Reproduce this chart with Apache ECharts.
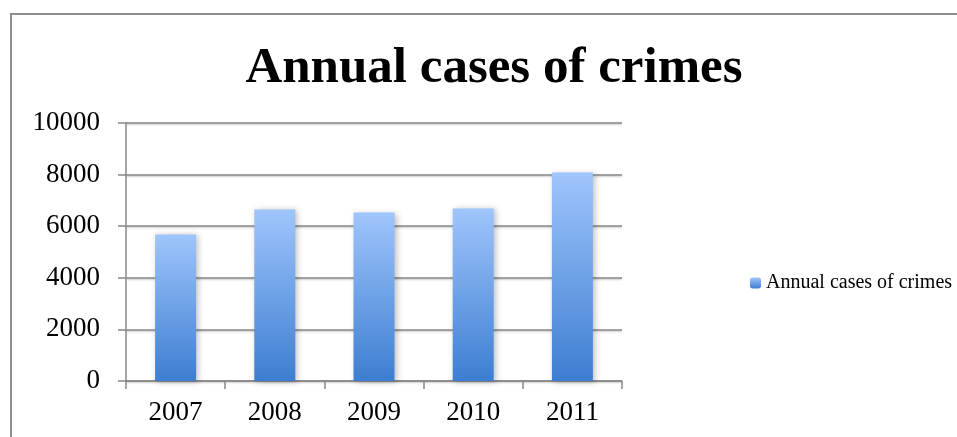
<!DOCTYPE html>
<html>
<head>
<meta charset="utf-8">
<script src="https://cdn.jsdelivr.net/npm/echarts@6/dist/echarts.min.js"></script>
<style>
  html, body { margin: 0; padding: 0; background: #fff; }
  #main { width: 957px; height: 437px; }
</style>
</head>
<body>
<div id="main"></div>
<script>
// data
var years = ['2007', '2008', '2009', '2010', '2011'];
var crimes = [5680, 6650, 6530, 6690, 8080];
var seriesName = 'Annual cases of crimes';

var barColor = new echarts.graphic.LinearGradient(0, 0, 0, 1, [
    {offset: 0, color: '#9fc5fc'},
    {offset: 1, color: '#3d7ed1'}
]);

var myChart = echarts.init(document.getElementById('main'));
myChart.setOption({
    backgroundColor: '#fff',
    animation: false,
    title: {
        text: 'Annual cases of crimes',
        left: 489,
        top: 38,
        textAlign: 'center',
        textStyle: {
            fontFamily: 'Liberation Serif',
            fontWeight: 'bold',
            fontSize: 51,
            color: '#000'
        }
    },
    // outer chart frame
    graphic: [{
        type: 'rect',
        shape: {x: 11, y: 14, width: 960, height: 440},
        style: {fill: 'none', stroke: '#8c8c8c', lineWidth: 2}
    }],
    legend: {
        left: 745,
        top: 268,
        itemWidth: 11,
        itemHeight: 11,
        itemGap: 4,
        textStyle: {fontFamily: 'Liberation Serif', fontSize: 20, color: '#000'},
        data: [seriesName]
    },
    grid: {left: 126, right: 335, top: 123, bottom: 56},
    xAxis: {
        type: 'category',
        data: years,
        axisLine: {lineStyle: {color: '#888', width: 1.5}},
        axisTick: {show: true, length: 8, lineStyle: {color: '#888', width: 1.5}},
        axisLabel: {fontFamily: 'Liberation Serif', fontSize: 27, color: '#000', margin: 18}
    },
    yAxis: {
        type: 'value',
        min: 0,
        max: 10000,
        interval: 2000,
        axisLine: {show: true, lineStyle: {color: '#888', width: 1.5}},
        axisTick: {show: true, length: 8, lineStyle: {color: '#888', width: 1.5}},
        splitLine: {lineStyle: {color: '#888', width: 1.5, shadowColor: 'rgba(0,0,0,0.25)', shadowBlur: 2, shadowOffsetY: 1}},
        axisLabel: {
            fontFamily: 'Liberation Serif', fontSize: 27, color: '#000', margin: 26,
            formatter: function (v) { return String(v); }
        }
    },
    series: [{
        name: seriesName,
        type: 'bar',
        data: crimes,
        barWidth: 41,
        itemStyle: {
            color: barColor,
            shadowColor: 'rgba(0,0,0,0.25)',
            shadowBlur: 6,
            shadowOffsetX: 2,
            shadowOffsetY: 1
        }
    }]
});
</script>
</body>
</html>
